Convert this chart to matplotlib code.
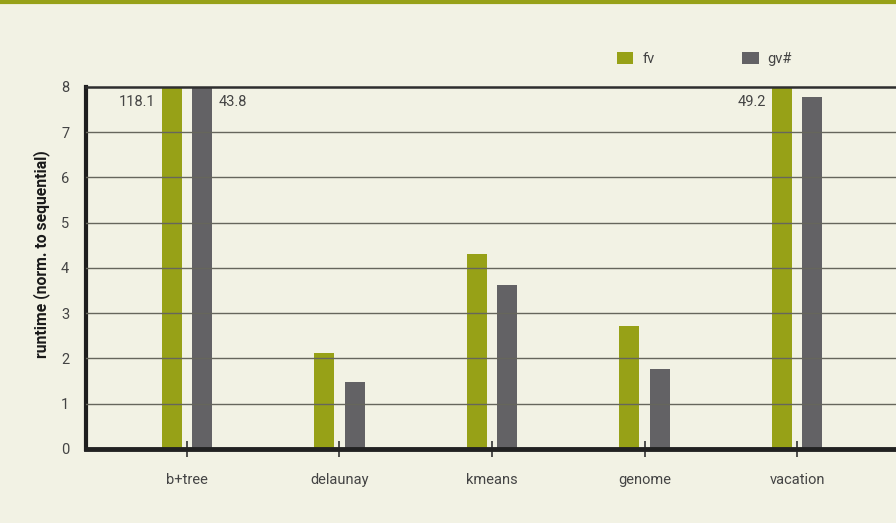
import numpy as np
import matplotlib.pyplot as plt
from matplotlib.lines import Line2D

benchmarks = ['b+tree', 'delaunay', 'kmeans', 'genome', 'vacation']
fv = [118.1, 2.13, 4.32, 2.71, 49.2]
gv = [43.8, 1.49, 3.63, 1.77, 7.78]
series_names = ['fv', 'gv#']
y_ticks = [0, 1, 2, 3, 4, 5, 6, 7, 8]

BG = '#f2f2e4'
OLIVE = '#97a117'
GREY = '#636265'
TEXT = '#444444'

plt.rcParams['font.family'] = ['Roboto', 'DejaVu Sans']

fig = plt.figure(figsize=(8.96, 5.23), dpi=100, facecolor=BG)
ax = fig.add_axes([0.096, 0.1415, 0.904, 0.6922], facecolor=BG)

x = np.arange(len(benchmarks))
width = 0.13
offset = 0.1
ax.bar(x - offset, fv, width, color=OLIVE, label=series_names[0], zorder=2)
ax.bar(x + offset, gv, width, color=GREY, label=series_names[1], zorder=2)

ax.set_xlim(-0.662, 4.649)
ax.set_ylim(0, 8)

# horizontal grid
for v in y_ticks[1:-1]:
    ax.axhline(v, color='#66665c', lw=1.0, zorder=3)
ax.axhline(8, color='#2e2e2e', lw=1.8, zorder=3, clip_on=False)

# labels for the bars running off the top
ymax = ax.get_ylim()[1]
for i, (a, b) in enumerate(zip(fv, gv)):
    if a > ymax:
        ax.text(i - offset - width / 2 - 0.04, 7.67, f'{a:g}', ha='right', va='center',
                fontsize=10.5, color=TEXT)
    if b > ymax:
        ax.text(i + offset + width / 2 + 0.04, 7.67, f'{b:g}', ha='left', va='center',
                fontsize=10.5, color=TEXT)

for side in ['top', 'right']:
    ax.spines[side].set_visible(False)
ax.spines['left'].set_linewidth(3)
ax.spines['left'].set_color('#1e1e1e')
ax.spines['bottom'].set_linewidth(3.5)
ax.spines['bottom'].set_color('#222222')
ax.spines['bottom'].set_zorder(4)

ax.set_yticks(y_ticks)
ax.tick_params(axis='y', length=0, pad=12, labelsize=10.5, labelcolor=TEXT)
ax.set_xticks(x)
ax.set_xticklabels(benchmarks)
ax.tick_params(axis='x', direction='inout', length=12, width=1.2, color='#333333',
               pad=11, labelsize=10.5, labelcolor=TEXT)

ax.set_ylabel('runtime (norm. to sequential)', fontsize=11.3, fontweight='bold',
              color='#1a1a1a')
ax.yaxis.set_label_coords(-0.045, 0.539)

ax.legend(loc='center left', bbox_to_anchor=(0.639, 1.078), ncol=2, frameon=False,
          handlelength=1.15, handleheight=0.86, handletextpad=0.6,
          columnspacing=6.0, fontsize=10.5, labelcolor=TEXT)

# band along the top edge
fig.add_artist(Line2D([0, 1], [0.9962, 0.9962], transform=fig.transFigure,
                      color=OLIVE, lw=3))

fig.savefig('out.png', dpi=100, facecolor=BG)
